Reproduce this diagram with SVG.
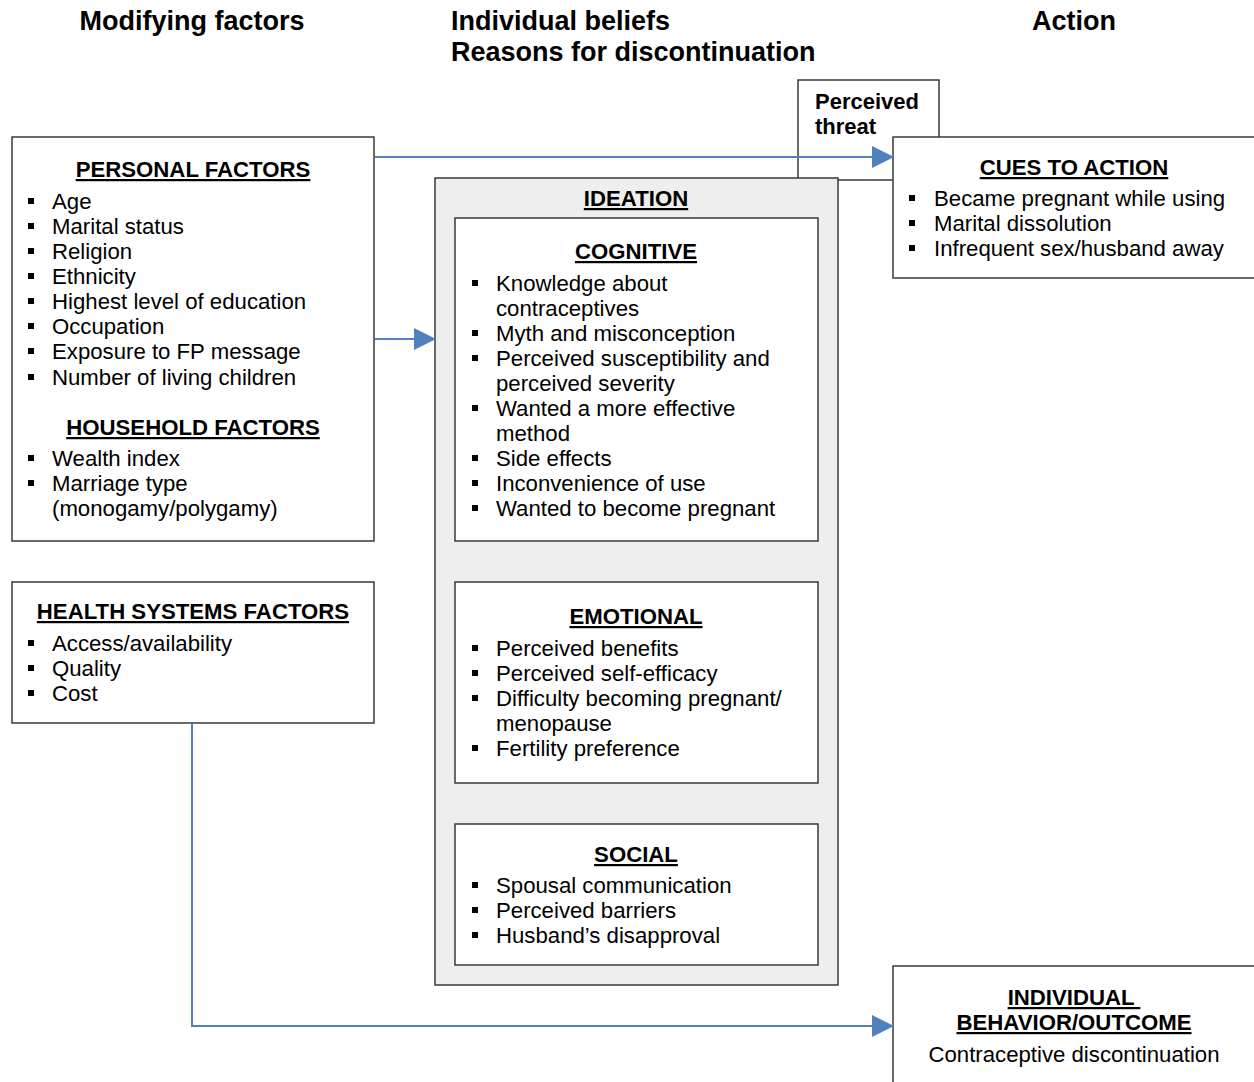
<svg xmlns="http://www.w3.org/2000/svg" width="1254" height="1082" viewBox="0 0 1254 1082">
<style>
text{font-family:"Liberation Sans",Arial,sans-serif;fill:#000;}
.h{font-size:27px;font-weight:bold;}
.t{font-size:22.2px;font-weight:bold;text-decoration:underline;text-anchor:middle;}
.b{font-size:22.2px;}
.pt{font-size:22px;font-weight:bold;}
.c{text-anchor:middle;}
.box{fill:#fff;stroke:#3a3a3a;stroke-width:1.5;}
.grey{fill:#eeeeee;stroke:#3a3a3a;stroke-width:1.5;}
.bul{fill:#000;}
.con{fill:none;stroke:#4f81bd;stroke-width:2;}
</style>
<defs>
<rect id="sq" x="0" y="-11" width="6" height="6" class="bul"/>
<marker id="ah" markerUnits="userSpaceOnUse" markerWidth="22" markerHeight="24" refX="21" refY="12" orient="auto">
<path d="M0,1 L22,12 L0,23 Z" fill="#4f81bd"/>
</marker>
</defs>

<g id="headings">
<text class="h c" x="192" y="30">Modifying factors</text>
<text class="h" x="451" y="30">Individual beliefs</text>
<text class="h" x="451" y="61">Reasons for discontinuation</text>
<text class="h c" x="1074" y="30">Action</text>
</g>

<g id="perceived-threat">
<rect class="box" x="798" y="80" width="141" height="100"/>
<text class="pt" x="815" y="109">Perceived</text>
<text class="pt" x="815" y="134">threat</text>
</g>

<g id="personal-factors">
<rect class="box" x="12" y="137" width="362" height="404"/>
<text class="t" x="193" y="177">PERSONAL FACTORS</text>
<g>
<use href="#sq" x="28" y="209"/><text class="b" x="52" y="209">Age</text>
<use href="#sq" x="28" y="234"/><text class="b" x="52" y="234">Marital status</text>
<use href="#sq" x="28" y="259"/><text class="b" x="52" y="259">Religion</text>
<use href="#sq" x="28" y="284"/><text class="b" x="52" y="284">Ethnicity</text>
<use href="#sq" x="28" y="309"/><text class="b" x="52" y="309">Highest level of education</text>
<use href="#sq" x="28" y="334"/><text class="b" x="52" y="334">Occupation</text>
<use href="#sq" x="28" y="359"/><text class="b" x="52" y="359">Exposure to FP message</text>
<use href="#sq" x="28" y="385"/><text class="b" x="52" y="385">Number of living children</text>
</g>
<text class="t" x="193" y="435">HOUSEHOLD FACTORS</text>
<use href="#sq" x="28" y="466"/><text class="b" x="52" y="466">Wealth index</text>
<use href="#sq" x="28" y="491"/><text class="b" x="52" y="491">Marriage type</text>
<text class="b" x="52" y="516">(monogamy/polygamy)</text>
</g>

<g id="health-systems-factors">
<rect class="box" x="12" y="582" width="362" height="141"/>
<text class="t" x="193" y="619">HEALTH SYSTEMS FACTORS</text>
<use href="#sq" x="28" y="651"/><text class="b" x="52" y="651">Access/availability</text>
<use href="#sq" x="28" y="676"/><text class="b" x="52" y="676">Quality</text>
<use href="#sq" x="28" y="701"/><text class="b" x="52" y="701">Cost</text>
</g>

<g id="ideation">
<rect class="grey" x="435" y="178" width="403" height="807"/>
<text class="t" x="636" y="206">IDEATION</text>
</g>

<g id="cognitive">
<rect class="box" x="455" y="218" width="363" height="323"/>
<text class="t" x="636" y="259">COGNITIVE</text>
<use href="#sq" x="472" y="291"/><text class="b" x="496" y="291">Knowledge about</text>
<text class="b" x="496" y="316">contraceptives</text>
<use href="#sq" x="472" y="341"/><text class="b" x="496" y="341">Myth and misconception</text>
<use href="#sq" x="472" y="366"/><text class="b" x="496" y="366">Perceived susceptibility and</text>
<text class="b" x="496" y="391">perceived severity</text>
<use href="#sq" x="472" y="416"/><text class="b" x="496" y="416">Wanted a more effective</text>
<text class="b" x="496" y="441">method</text>
<use href="#sq" x="472" y="466"/><text class="b" x="496" y="466">Side effects</text>
<use href="#sq" x="472" y="491"/><text class="b" x="496" y="491">Inconvenience of use</text>
<use href="#sq" x="472" y="516"/><text class="b" x="496" y="516">Wanted to become pregnant</text>
</g>

<g id="emotional">
<rect class="box" x="455" y="582" width="363" height="201"/>
<text class="t" x="636" y="624">EMOTIONAL</text>
<use href="#sq" x="472" y="656"/><text class="b" x="496" y="656">Perceived benefits</text>
<use href="#sq" x="472" y="681"/><text class="b" x="496" y="681">Perceived self-efficacy</text>
<use href="#sq" x="472" y="706"/><text class="b" x="496" y="706">Difficulty becoming pregnant/</text>
<text class="b" x="496" y="731">menopause</text>
<use href="#sq" x="472" y="756"/><text class="b" x="496" y="756">Fertility preference</text>
</g>

<g id="social">
<rect class="box" x="455" y="824" width="363" height="141"/>
<text class="t" x="636" y="862">SOCIAL</text>
<use href="#sq" x="472" y="893"/><text class="b" x="496" y="893">Spousal communication</text>
<use href="#sq" x="472" y="918"/><text class="b" x="496" y="918">Perceived barriers</text>
<use href="#sq" x="472" y="943"/><text class="b" x="496" y="943">Husband’s disapproval</text>
</g>

<g id="cues-to-action">
<rect class="box" x="893" y="137" width="370" height="141"/>
<text class="t" x="1074" y="175">CUES TO ACTION</text>
<use href="#sq" x="909" y="206"/><text class="b" x="934" y="206">Became pregnant while using</text>
<use href="#sq" x="909" y="231"/><text class="b" x="934" y="231">Marital dissolution</text>
<use href="#sq" x="909" y="256"/><text class="b" x="934" y="256">Infrequent sex/husband away</text>
</g>

<g id="individual-behavior">
<rect class="box" x="893" y="966" width="370" height="130"/>
<text class="t" x="1074" y="1005" xml:space="preserve">INDIVIDUAL </text>
<text class="t" x="1074" y="1030">BEHAVIOR/OUTCOME</text>
<text class="b c" x="1074" y="1062">Contraceptive discontinuation</text>
</g>

<g id="connectors">
<path class="con" d="M375,157 H893" marker-end="url(#ah)"/>
<path class="con" d="M375,339 H435" marker-end="url(#ah)"/>
<path class="con" d="M192,724 V1026 H893" marker-end="url(#ah)"/>
</g>
</svg>
